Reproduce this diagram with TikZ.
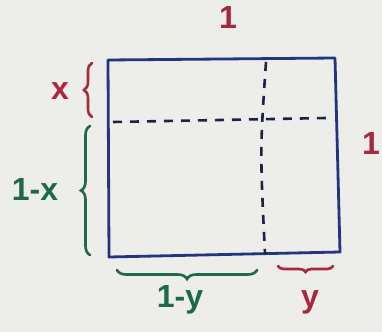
\documentclass[tikz,border=0pt]{standalone}
\usepackage{fontspec}
\setmainfont{Liberation Sans}
\usetikzlibrary{decorations.pathreplacing,decorations.pathmorphing}
\definecolor{paper}{HTML}{EDEDEA}
\definecolor{inkblue}{HTML}{23357E}
\definecolor{inkred}{HTML}{A8283F}
\definecolor{inkgreen}{HTML}{1E6A46}
\definecolor{inkdark}{HTML}{1C2440}
\begin{document}
\begin{tikzpicture}[x=1pt,y=-1pt,
  lbl/.style={inner sep=0pt,font=\fontsize{32}{32}\selectfont\bfseries},
  redlbl/.style={lbl,text=inkred},
  greenlbl/.style={lbl,text=inkgreen},
  sqline/.style={draw=inkblue,line width=2.8pt,line join=round},
  dashline/.style={draw=inkdark,line width=2.6pt,dash pattern=on 9pt off 8pt},
  bracebase/.style={line width=2.6pt,line cap=round,decorate},
  redbrace/.style={bracebase,draw=inkred,decoration={brace,amplitude=8pt}},
  greenbrace/.style={bracebase,draw=inkgreen,decoration={brace,amplitude=9pt}}]
\fill[paper] (0,0) rectangle (382,332);
\useasboundingbox (0,0) rectangle (382,332);
% square
\coordinate (tl) at (108,60);
\coordinate (tr) at (335,58);
\coordinate (br) at (340,252);
\coordinate (bl) at (109,257);
\draw[sqline] (tl) -- (tr) -- (br) -- (bl) -- cycle;
% dashed lines
\coordinate (hl) at (113,122);
\coordinate (hr) at (326,118);
\coordinate (vt) at (266,62);
\coordinate (vb) at (265,254);
\draw[dashline] (hl) -- (hr);
\draw[dashline] (vt) .. controls (260,150) .. (vb);
% left braces
\coordinate (xb1) at (92,117);
\coordinate (xb2) at (92,63);
\draw[redbrace] (xb1) -- (xb2);
\coordinate (ob1) at (90,255);
\coordinate (ob2) at (90,126);
\draw[greenbrace] (ob1) -- (ob2);
% bottom braces
\coordinate (ub1) at (257,270);
\coordinate (ub2) at (117,270);
\draw[greenbrace] (ub1) -- (ub2);
\coordinate (yb1) at (333,266);
\coordinate (yb2) at (278,266);
\draw[redbrace,decoration={brace,amplitude=6pt}] (yb1) -- (yb2);
% labels
\node[redlbl] (lx) at (60,91) {x};
\node[greenlbl] (l1x) at (35,189) {1-x};
\node[greenlbl] (l1y) at (180,300) {1-y};
\node[redlbl] (ly) at (310,302) {y};
\node[redlbl] (ltop) at (228,17) {1};
\node[redlbl] (lright) at (371,143) {1};
\end{tikzpicture}
\end{document}
